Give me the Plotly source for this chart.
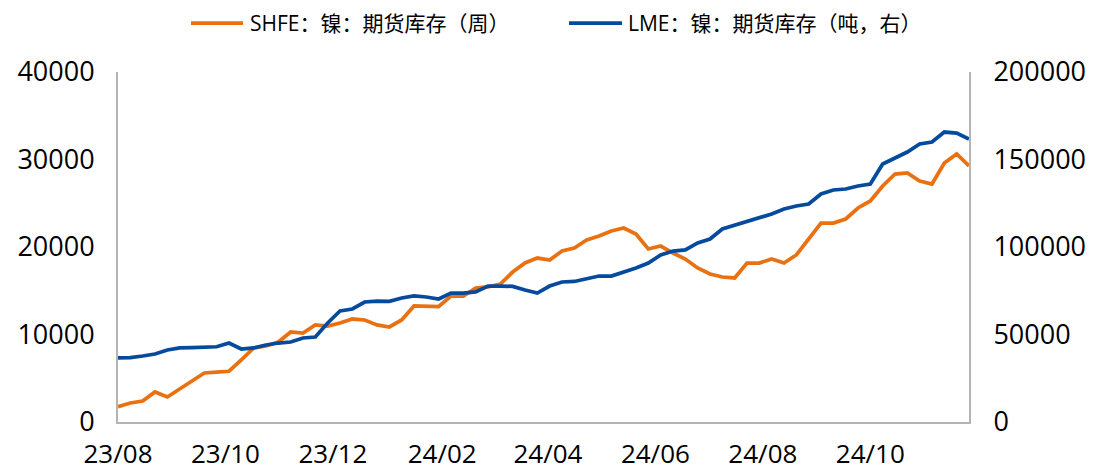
import pandas as pd
import plotly.graph_objects as go

# weekly dates (Fridays)
dates = pd.date_range("2023-08-04", periods=70, freq="7D")

shfe_nickel = [
    1750, 2170, 2400, 3430, 2860, 3770, 4690, 5600, 5710, 5800,
    7090, 8460, 8690, 9140, 10290, 10170, 11090, 10970, 11310, 11770,
    11660, 11090, 10860, 11660, 13260, 13260, 13200, 14400, 14400, 15310,
    15430, 15770, 17140, 18170, 18740, 18510, 19540, 19890, 20800, 21260,
    21830, 22170, 21490, 19770, 20110, 19310, 18630, 17600, 16910, 16570,
    16460, 18170, 18170, 18630, 18170, 19090, 20910, 22740, 22740, 23200,
    24460, 25260, 26970, 28340, 28460, 27540, 27200, 29600, 30630, 29260,
]

lme_nickel = [
    36570, 36800, 37710, 38860, 41140, 42290, 42500, 42860, 43000, 45140,
    41710, 42290, 44000, 45140, 45710, 48000, 48570, 56570, 63430, 64570,
    68570, 69140, 69000, 70860, 72000, 71430, 70290, 73710, 73710, 74290,
    77710, 77710, 77500, 75430, 73710, 77710, 80000, 80300, 81710, 83430,
    83430, 85710, 88000, 90860, 95430, 97710, 98290, 102290, 104570, 110290,
    112570, 114290, 116570, 118860, 121710, 123430, 124570, 130290, 132570, 133140,
    134860, 136000, 147430, 150860, 154290, 158860, 160000, 165710, 165140, 161710,
]

name_shfe = "SHFE：镍：期货库存（周）"
name_lme = "LME：镍：期货库存（吨，右）"

ORANGE = "#EA7112"
BLUE = "#064A9E"
AXIS_GRAY = "#B4B4B4"
FONT = "Open Sans, Noto Sans CJK SC, sans-serif"

# the page body adds an 8px offset, so the figure is 8px smaller and
# all pixel targets below are given in page coordinates (minus the offset)
OFF = 8
W, H = 1094 - OFF, 472 - OFF
L, T = 118 - OFF, 72 - OFF
PW, PH = 851, 350
R = W - L - PW
B = H - T - PH


def px_x(p):
    return (p - OFF - L) / PW


def px_y(p):
    return (T + PH - (p - OFF)) / PH


fig = go.Figure()
fig.add_trace(go.Scatter(x=dates, y=shfe_nickel, name=name_shfe, mode="lines",
                         line=dict(color=ORANGE, width=3.75), yaxis="y"))
fig.add_trace(go.Scatter(x=dates, y=lme_nickel, name=name_lme, mode="lines",
                         line=dict(color=BLUE, width=3.75), yaxis="y2"))

# manual legend (line sample + text) above the plot
leg_y = px_y(23)
legend_items = [(name_shfe, ORANGE, 191, 243, 248), (name_lme, BLUE, 569, 622, 626)]
for text, col, x0, x1, tx in legend_items:
    fig.add_shape(type="line", xref="paper", yref="paper",
                  x0=px_x(x0), x1=px_x(x1), y0=leg_y, y1=leg_y,
                  line=dict(color=col, width=3.75))
    fig.add_annotation(xref="paper", yref="paper", x=px_x(tx), y=leg_y,
                       xanchor="left", yanchor="middle", showarrow=False,
                       text=text, font=dict(size=21, family=FONT, color="#000000"))

TICK_SIZE = 27

fig.update_layout(
    width=W, height=H,
    margin=dict(l=L, r=R, t=T, b=B, autoexpand=False),
    paper_bgcolor="white", plot_bgcolor="white",
    font=dict(family=FONT, color="#000000", size=TICK_SIZE),
    showlegend=False,
    xaxis=dict(
        type="date",
        range=[dates[0], dates[-1]],
        tick0=dates[0], dtick="M2", tickformat="%y/%m",
        showgrid=False, zeroline=False,
        showline=True, linecolor=AXIS_GRAY, linewidth=2,
        ticks="", ticklabelstandoff=8, automargin=False,
        tickfont=dict(size=26),
    ),
    yaxis=dict(
        range=[0, 40000], dtick=10000, tickformat="d",
        showgrid=False, zeroline=False,
        showline=True, linecolor=AXIS_GRAY, linewidth=2,
        ticks="", ticklabelstandoff=16, automargin=False,
        tickfont=dict(size=TICK_SIZE),
    ),
    yaxis2=dict(
        range=[0, 200000], dtick=50000, tickformat="d",
        overlaying="y", side="right", anchor="x",
        showgrid=False, zeroline=False,
        showline=True, linecolor=AXIS_GRAY, linewidth=2,
        ticks="", ticklabelstandoff=17, automargin=False,
        tickfont=dict(size=TICK_SIZE),
    ),
)

fig.write_html("out.html")
